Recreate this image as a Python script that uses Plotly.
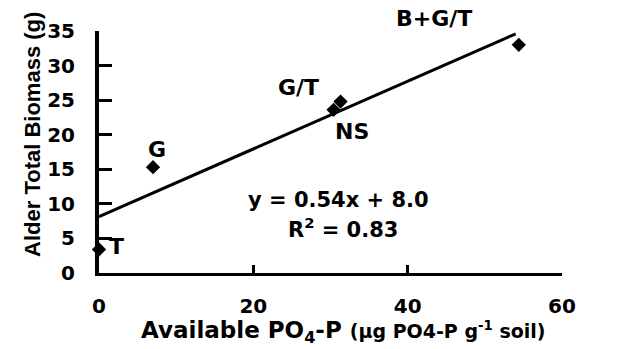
import plotly.graph_objects as go

# Data
treatments = ["T", "G", "NS", "G/T", "B+G/T"]
po4_p = [0.0, 7.0, 30.4, 31.3, 54.4]
biomass = [3.4, 15.3, 23.6, 24.8, 33.0]

trend_x = [0.0, 54.0]
trend_y = [8.15, 34.6]

x_ticks = [0, 20, 40, 60]
y_ticks = [0, 5, 10, 15, 20, 25, 30, 35]

# label positions (data coords) for the treatment labels
label_x = [1.0, 7.5, 32.8, 25.8, 43.4]
label_y = [3.9, 17.8, 20.5, 26.8, 35.0]

WIDE = "DejaVu Sans"
ARIAL = "Arial"


def bold(size, family=WIDE):
    return dict(family=family, size=size, color="black", weight=700)


fig = go.Figure()
fig.add_trace(go.Scatter(x=trend_x, y=trend_y, mode="lines",
                         line=dict(color="black", width=3), showlegend=False,
                         cliponaxis=False, hoverinfo="skip"))
fig.add_trace(go.Scatter(x=po4_p, y=biomass, mode="markers",
                         marker=dict(symbol="diamond", size=11, color="black"),
                         showlegend=False, cliponaxis=False))

xanchors = ["left", "center", "center", "center", "center"]
yshifts = [0, 0, 0, 0, 13]
for t, lx, ly, xa, ys in zip(treatments, label_x, label_y, xanchors, yshifts):
    fig.add_annotation(x=lx, y=ly, text="<b>" + t + "</b>", showarrow=False, xanchor=xa,
                       yshift=ys, font=bold(22))

fig.add_annotation(x=31.1, y=10.6, text="<b>y = 0.54x + 8.0</b>", showarrow=False,
                   font=bold(21))
fig.add_annotation(x=31.6, y=6.5, text="<b>R<sup>2</sup> = 0.83</b>", showarrow=False,
                   font=bold(21))

# axis titles
fig.add_annotation(xref="paper", yref="paper", x=-0.145, y=0.574, textangle=-90,
                   xanchor="center", yanchor="middle",
                   text="<b>Alder Total Biomass (g)</b>", showarrow=False,
                   font=bold(22, ARIAL))
fig.add_annotation(xref="paper", yref="paper", x=0.527, y=-0.245,
                   xanchor="center", yanchor="middle",
                   text="<b>Available PO<sub>4</sub>-P <span style='font-size:19px'>(µg PO4-P g<sup>-1</sup> soil)</span></b>",
                   showarrow=False, font=bold(23))

fig.update_xaxes(range=[0, 60], tickvals=x_ticks, ticktext=["<b>%d</b>" % v for v in x_ticks],
                 ticks="inside", ticklen=8, automargin=False,
                 tickwidth=3, tickcolor="black", showline=True, linecolor="black",
                 linewidth=3, showgrid=False, zeroline=False, ticklabelstandoff=13,
                 tickfont=bold(20))
fig.update_yaxes(range=[0, 35], tickvals=y_ticks, ticktext=["<b>%d</b>" % v for v in y_ticks],
                 ticks="inside", ticklen=13, automargin=False,
                 tickwidth=3, tickcolor="black", showline=True, linecolor="black",
                 linewidth=4, showgrid=False, zeroline=False, ticklabelstandoff=16,
                 tickfont=bold(20))

fig.update_layout(width=624, height=349, plot_bgcolor="white", paper_bgcolor="white",
                  margin=dict(l=99, r=62, t=31, b=76), showlegend=False,
                  font=dict(family=WIDE, color="black"))

fig.write_html("out.html", config={"displayModeBar": False},
               post_script="document.body.style.margin='0';")
